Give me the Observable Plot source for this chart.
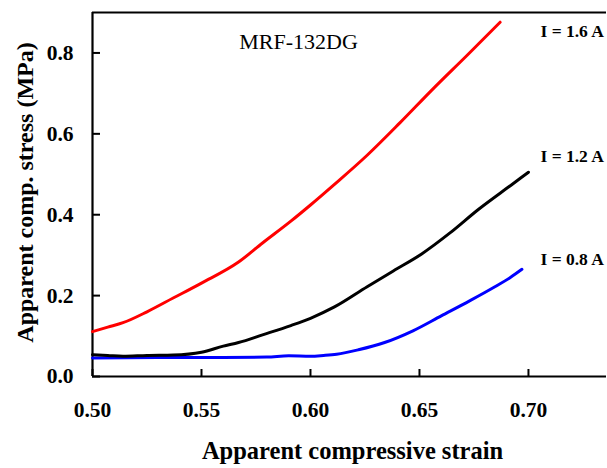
<!DOCTYPE html>
<html>
<head>
<meta charset="utf-8">
<script src="https://cdn.jsdelivr.net/npm/d3@7"></script>
<script src="https://cdn.jsdelivr.net/npm/@observablehq/plot@0.6"></script>
<style>
  html, body { margin: 0; padding: 0; background: #fff; }
  #chart svg { display: block; }
</style>
</head>
<body>
<div id="chart"></div>
<script>
// Series: [strain, stress (MPa)]
const red16 = [
  [0.500,0.111],[0.507,0.122],[0.514,0.133],[0.525,0.160],[0.537,0.194],[0.550,0.231],
  [0.567,0.283],[0.578,0.330],[0.591,0.384],[0.600,0.424],[0.611,0.475],[0.626,0.547],
  [0.641,0.627],[0.656,0.710],[0.672,0.795],[0.687,0.876]
];
const black12 = [
  [0.500,0.054],[0.507,0.052],[0.514,0.050],[0.525,0.052],[0.537,0.053],[0.550,0.060],
  [0.560,0.075],[0.567,0.084],[0.578,0.103],[0.591,0.126],[0.600,0.144],[0.611,0.172],
  [0.626,0.222],[0.638,0.261],[0.651,0.303],[0.664,0.355],[0.677,0.413],[0.692,0.473],[0.700,0.505]
];
const blue08 = [
  [0.500,0.046],[0.530,0.047],[0.560,0.047],[0.580,0.048],[0.590,0.051],[0.600,0.050],
  [0.606,0.052],[0.612,0.055],[0.622,0.066],[0.634,0.084],[0.647,0.113],[0.660,0.150],
  [0.673,0.187],[0.684,0.220],[0.692,0.246],[0.697,0.265]
];
const seriesLabels = ["I = 1.6 A", "I = 1.2 A", "I = 0.8 A"];
const xTicks = [0.50, 0.55, 0.60, 0.65, 0.70];
const yTicks = [0.0, 0.2, 0.4, 0.6, 0.8];
const title = "MRF-132DG";
const xLabel = "Apparent compressive strain";
const yLabel = "Apparent comp. stress (MPa)";

const W = 607, H = 468;
const mL = 92, mT = 12, mB = 92, mR = 1;
const innerW = W - mL - mR, innerH = H - mT - mB;

const toRows = arr => arr.map(([x, y]) => ({x, y}));

const labelRows = [
  {t: seriesLabels[0], x: 0.7055, y: 0.854},
  {t: seriesLabels[1], x: 0.7055, y: 0.544},
  {t: seriesLabels[2], x: 0.7055, y: 0.290}
];

const font = "'Liberation Serif', 'Times New Roman', serif";

const chart = Plot.plot({
  width: W, height: H,
  marginLeft: mL, marginTop: mT, marginBottom: mB, marginRight: mR,
  style: {fontFamily: font, background: "#fff", overflow: "visible", color: "#000"},
  x: {domain: [0.5, 0.7358]},
  y: {domain: [0, 0.9]},
  marks: [
    Plot.axisX(xTicks, {tickSize: 0, tickPadding: 25, tickFormat: d3.format(".2f"), fontSize: 21.5, fontWeight: "bold", label: null}),
    Plot.axisY(yTicks, {tickSize: 0, tickPadding: 19, tickFormat: d3.format(".1f"), fontSize: 21.5, fontWeight: "bold", label: null}),
    Plot.tickX(xTicks, {x: d => d, insetTop: innerH - 7, stroke: "#000", strokeWidth: 2}),
    Plot.tickY(yTicks, {y: d => d, insetRight: innerW - 8, stroke: "#000", strokeWidth: 2}),
    Plot.ruleY([0], {stroke: "#000", strokeWidth: 2.2}),
    Plot.ruleY([0.9], {stroke: "#000", strokeWidth: 2.2}),
    Plot.ruleX([0.5], {stroke: "#000", strokeWidth: 2.2}),
    Plot.line(toRows(blue08), {x: "x", y: "y", stroke: "#0000ff", strokeWidth: 3, curve: "monotone-x"}),
    Plot.line(toRows(black12), {x: "x", y: "y", stroke: "#000", strokeWidth: 3, curve: "monotone-x"}),
    Plot.line(toRows(red16), {x: "x", y: "y", stroke: "#ff0000", strokeWidth: 3, curve: "monotone-x"}),
    Plot.text(labelRows, {x: "x", y: "y", text: "t", textAnchor: "start", fontSize: 17.5, fontWeight: "bold", fill: "#000"}),
    Plot.text([title], {x: 0.5945, y: 0.827, text: d => d, fontSize: 22, fill: "#000"}),
    Plot.text([xLabel], {frameAnchor: "bottom", lineAnchor: "middle", dx: 3, dy: 75, text: d => d, fontSize: 24.5, fontWeight: "bold", fill: "#000"}),
    Plot.text([yLabel], {frameAnchor: "left", textAnchor: "middle", lineAnchor: "middle", dx: -67, dy: -2, rotate: -90, text: d => d, fontSize: 24, fontWeight: "bold", fill: "#000"})
  ]
});
document.getElementById("chart").appendChild(chart);
</script>
</body>
</html>
